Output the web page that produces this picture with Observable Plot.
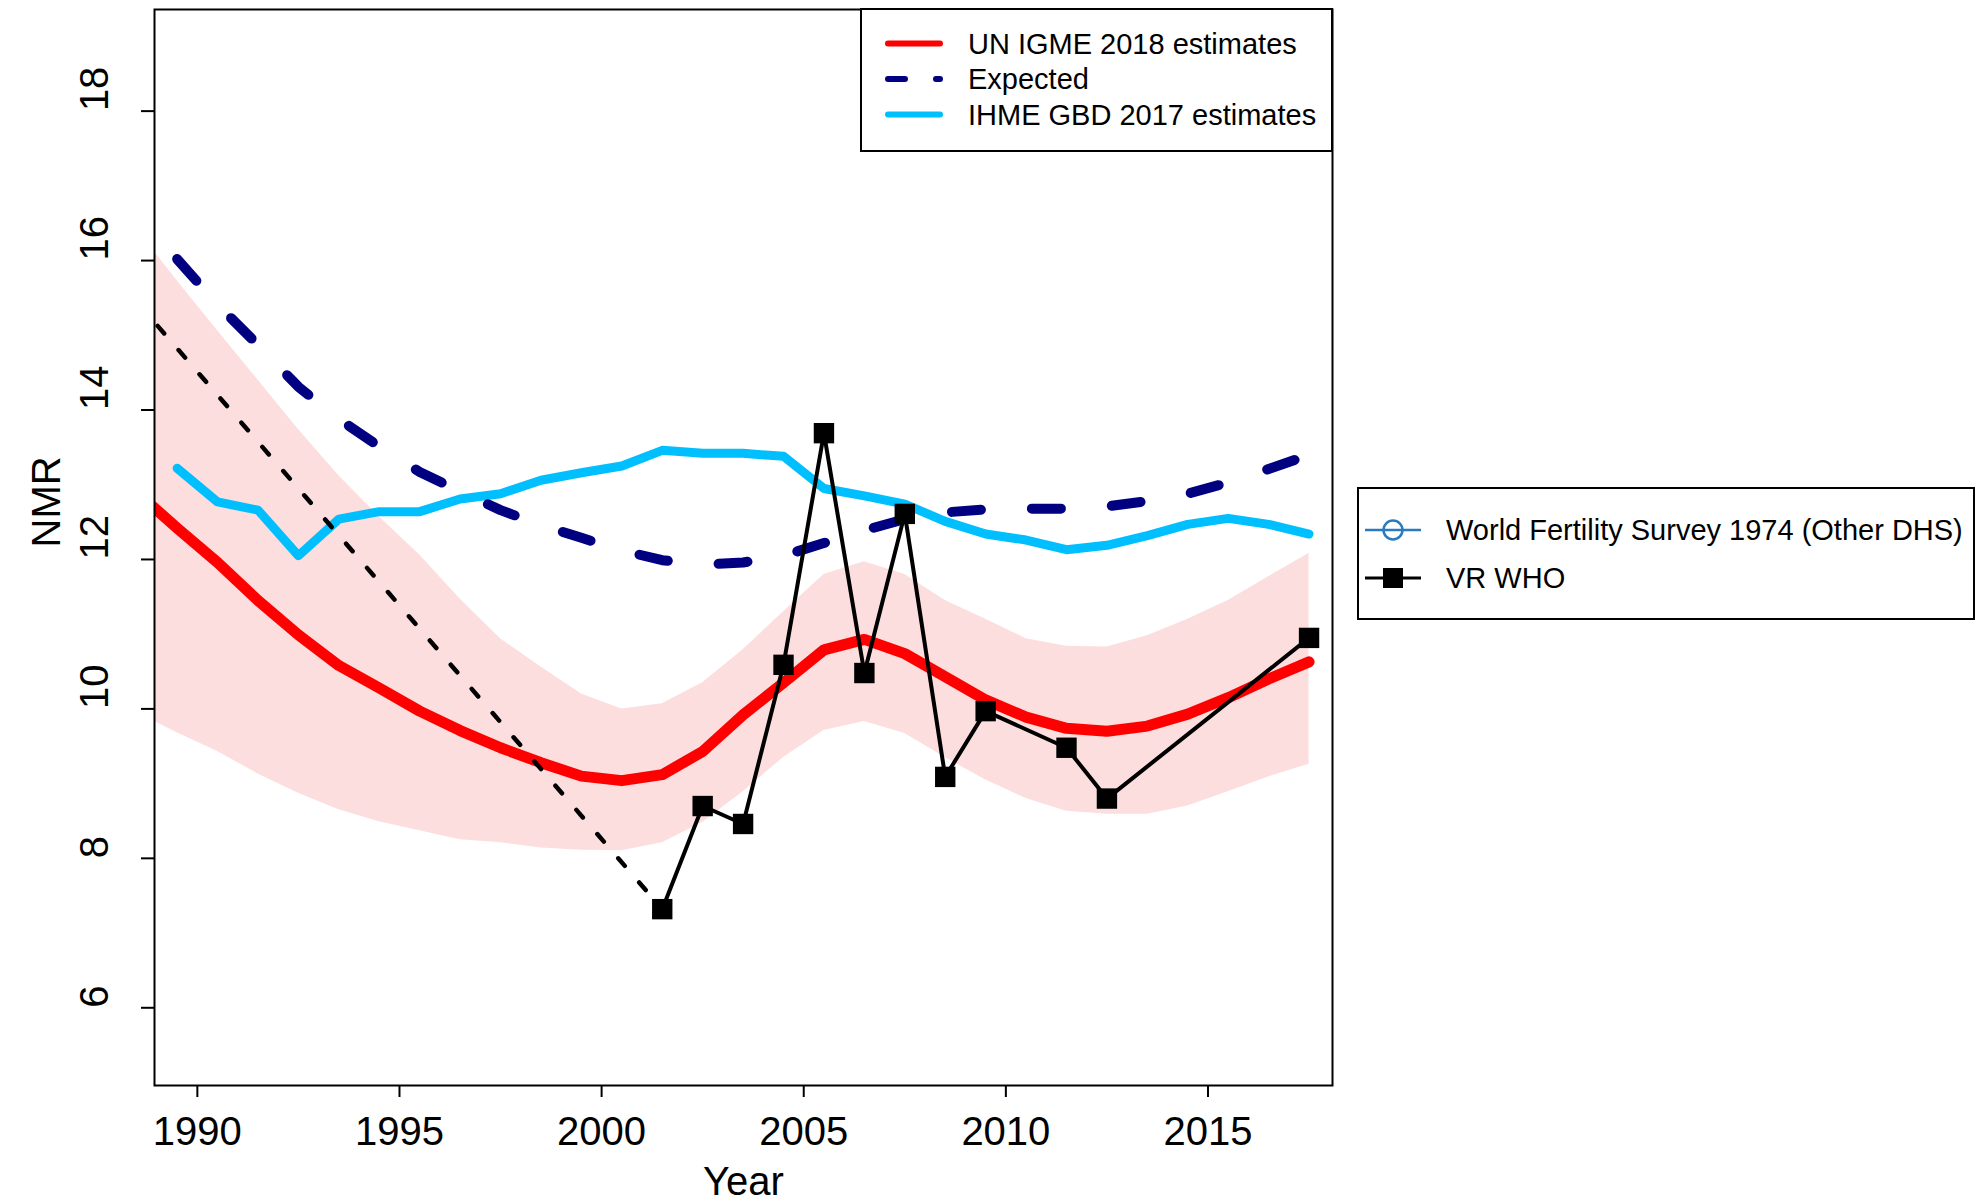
<!DOCTYPE html>
<html><head><meta charset="utf-8">
<script src="https://cdn.jsdelivr.net/npm/d3@7"></script>
<script src="https://cdn.jsdelivr.net/npm/@observablehq/plot@0.6"></script>
<style>
html,body{margin:0;padding:0;background:#fff;}
#chart{position:relative;width:1976px;height:1201px;overflow:hidden;}
svg{font-family:"Liberation Sans",Arial,Helvetica,sans-serif;}
</style></head><body><div id="chart"></div>
<script>
// ---- data ----
const igmeYears = [1988.5,1989.5,1990.5,1991.5,1992.5,1993.5,1994.5,1995.5,1996.5,1997.5,1998.5,1999.5,2000.5,2001.5,2002.5,2003.5,2004.5,2005.5,2006.5,2007.5,2008.5,2009.5,2010.5,2011.5,2012.5,2013.5,2014.5,2015.5,2016.5,2017.5];
const igme      = [12.90,12.42,11.96,11.45,10.99,10.58,10.28,9.97,9.71,9.48,9.28,9.10,9.04,9.12,9.43,9.92,10.35,10.79,10.93,10.74,10.43,10.12,9.89,9.74,9.70,9.77,9.93,10.15,10.40,10.63];
const igmeUpper = [16.42,15.73,15.06,14.40,13.74,13.12,12.57,12.06,11.47,10.94,10.56,10.20,10.00,10.07,10.35,10.79,11.30,11.80,11.97,11.80,11.45,11.20,10.94,10.84,10.83,10.98,11.20,11.45,11.77,12.08];
const igmeLower = [9.95,9.68,9.43,9.13,8.87,8.65,8.49,8.37,8.25,8.21,8.14,8.11,8.10,8.21,8.48,8.89,9.35,9.71,9.83,9.67,9.35,9.05,8.80,8.63,8.59,8.59,8.70,8.89,9.09,9.26];

const seriesYears = [1989.5,1990.5,1991.5,1992.5,1993.5,1994.5,1995.5,1996.5,1997.5,1998.5,1999.5,2000.5,2001.5,2002.5,2003.5,2004.5,2005.5,2006.5,2007.5,2008.5,2009.5,2010.5,2011.5,2012.5,2013.5,2014.5,2015.5,2016.5,2017.5];
const ihme      = [13.22,12.77,12.66,12.05,12.54,12.64,12.64,12.81,12.88,13.06,13.16,13.25,13.46,13.42,13.42,13.38,12.95,12.85,12.74,12.51,12.34,12.26,12.13,12.19,12.32,12.47,12.55,12.47,12.34];
const expected  = [16.02,15.41,14.87,14.31,13.88,13.51,13.17,12.91,12.66,12.46,12.29,12.12,11.99,11.93,11.96,12.05,12.22,12.39,12.54,12.63,12.67,12.68,12.68,12.71,12.78,12.88,13.03,13.21,13.40];

const vrYears = [2001.5,2002.5,2003.5,2004.5,2005.5,2006.5,2007.5,2008.5,2009.5,2011.5,2012.5,2017.5];
const vr      = [7.32,8.70,8.46,10.59,13.69,10.48,12.61,9.09,9.97,9.48,8.80,10.95];

const trendYears = [1988.5,2001.5];
const trend      = [15.45,7.32];

const xTicks = [1990,1995,2000,2005,2010,2015];
const yTicks = [6,8,10,12,14,16,18];

const legend1 = [
  {label:"UN IGME 2018 estimates", color:"#FF0000", dash:null},
  {label:"Expected", color:"#000080", dash:"17,31"},
  {label:"IHME GBD 2017 estimates", color:"#00BFFF", dash:null}
];
const legend2 = [
  {label:"World Fertility Survey 1974 (Other DHS)", color:"#2A7AC0", symbol:"circle"},
  {label:"VR WHO", color:"#000000", symbol:"square"}
];

// ---- tables ----
const igmeData = igmeYears.map((y,i)=>({year:y, value:igme[i], lo:igmeLower[i], hi:igmeUpper[i]}));
const ihmeData = seriesYears.map((y,i)=>({year:y, value:ihme[i]}));
const expData  = seriesYears.map((y,i)=>({year:y, value:expected[i]}));
const vrData   = vrYears.map((y,i)=>({year:y, value:vr[i]}));
const trendData= trendYears.map((y,i)=>({year:y, value:trend[i]}));

const W = 1976, H = 1201;
const plot = Plot.plot({
  width: W, height: H,
  marginLeft: 154, marginRight: 644, marginTop: 9, marginBottom: 116,
  style: {fontFamily: '"Liberation Sans",Arial,Helvetica,sans-serif', background: "white", color: "black"},
  x: {domain: [1988.94, 2018.08]},
  y: {domain: [4.96, 19.36]},
  marks: [
    Plot.areaY(igmeData, {x:"year", y1:"lo", y2:"hi", fill:"#FDDEDE", clip:true}),
    Plot.line(igmeData, {x:"year", y:"value", stroke:"#FF0000", strokeWidth:11, strokeLinejoin:"round", strokeLinecap:"round", clip:true}),
    Plot.line(ihmeData, {x:"year", y:"value", stroke:"#00BFFF", strokeWidth:9, strokeLinejoin:"round", strokeLinecap:"round"}),
    Plot.line(expData, {x:"year", y:"value", stroke:"#000080", strokeWidth:10, strokeDasharray:"29,51", strokeLinecap:"round", strokeLinejoin:"round"}),
    Plot.line(trendData, {x:"year", y:"value", stroke:"black", strokeWidth:4.5, strokeDasharray:"10,22", strokeLinecap:"round", clip:true}),
    Plot.line(vrData, {x:"year", y:"value", stroke:"black", strokeWidth:4}),
    Plot.dot(vrData, {x:"year", y:"value", symbol:"square", r:11.5, fill:"black", stroke:null}),
    Plot.frame({stroke:"black", strokeWidth:2}),
    Plot.axisX({ticks:xTicks, tickSize:12, tickPadding:19, fontSize:40, strokeWidth:2, label:null, tickFormat:d=>String(d)}),
    Plot.axisY({ticks:yTicks, tickSize:13, strokeWidth:2, label:null, tickFormat:()=>""}),
    Plot.text(yTicks, {y:d=>d, text:d=>String(d), frameAnchor:"left", dx:-59, rotate:-90, fontSize:40, fill:"black"}),
    Plot.text(["Year"], {text:d=>d, frameAnchor:"bottom", dy:109, fontSize:40, fill:"black"}),
    Plot.text(["NMR"], {text:d=>d, frameAnchor:"left", dx:-107, rotate:-90, fontSize:40, fill:"black"})
  ]
});
document.getElementById("chart").appendChild(plot);

// ---- legends ----
const svg = d3.select(plot);
const g1 = svg.append("g").attr("text-anchor","start");
g1.append("rect").attr("x",861).attr("y",9).attr("width",471).attr("height",142)
  .attr("fill","white").attr("stroke","black").attr("stroke-width",2);
legend1.forEach((d,i)=>{
  const cy = 43.5 + i*35.5;
  g1.append("line").attr("x1",888).attr("x2",940).attr("y1",cy).attr("y2",cy)
    .attr("stroke",d.color).attr("stroke-width",6).attr("stroke-linecap","round")
    .attr("stroke-dasharray",d.dash);
  g1.append("text").attr("x",968).attr("y",cy).attr("dy","0.36em")
    .attr("font-size",29).attr("fill","black").text(d.label);
});
const g2 = svg.append("g").attr("text-anchor","start");
g2.append("rect").attr("x",1358).attr("y",488).attr("width",616).attr("height",131)
  .attr("fill","white").attr("stroke","black").attr("stroke-width",2);
legend2.forEach((d,i)=>{
  const cy = 530 + i*48;
  g2.append("line").attr("x1",1365).attr("x2",1421).attr("y1",cy).attr("y2",cy)
    .attr("stroke",d.color).attr("stroke-width",d.symbol==="circle"?2.5:3);
  if (d.symbol==="circle") {
    g2.append("circle").attr("cx",1393).attr("cy",cy).attr("r",9.5)
      .attr("fill","none").attr("stroke",d.color).attr("stroke-width",2.5);
  } else {
    g2.append("rect").attr("x",1383).attr("y",cy-10).attr("width",20).attr("height",20).attr("fill",d.color);
  }
  g2.append("text").attr("x",1446).attr("y",cy).attr("dy","0.36em")
    .attr("font-size",29).attr("fill","black").text(d.label);
});
</script></body></html>
